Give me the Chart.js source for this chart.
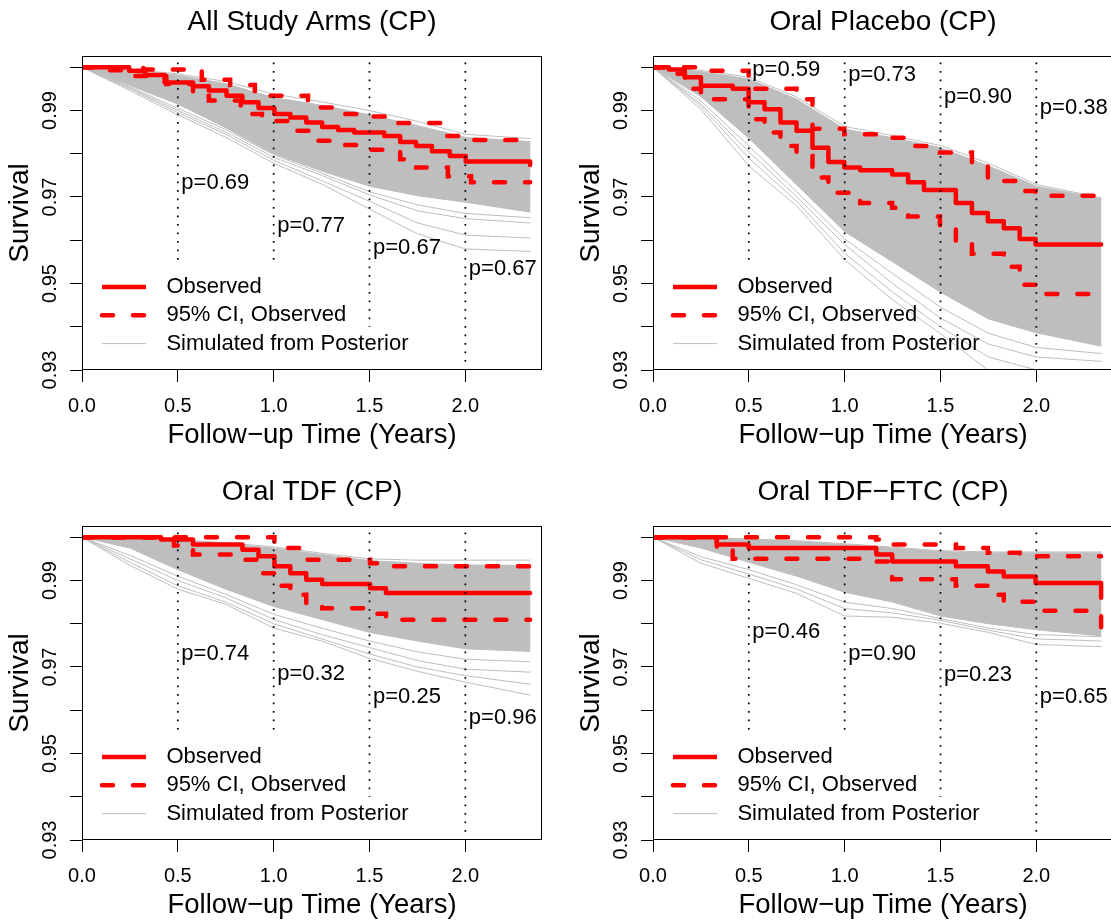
<!DOCTYPE html>
<html>
<head>
<meta charset="utf-8">
<script src="https://cdn.jsdelivr.net/npm/chart.js@4.4.1/dist/chart.umd.min.js"></script>
<style>
  html, body { margin: 0; padding: 0; background: #fff; overflow: hidden; width: 1111px; height: 922px; position: relative; }
  canvas { position: absolute; }
</style>
</head>
<body>
<canvas id="pAll" width="556" height="461" style="left:0px;top:0px"></canvas>
<canvas id="pPla" width="556" height="461" style="left:571px;top:0px"></canvas>
<canvas id="pTdf" width="556" height="461" style="left:0px;top:470px"></canvas>
<canvas id="pFtc" width="556" height="461" style="left:571px;top:470px"></canvas>
<script>
// axes
const xTickVals = [0, 0.5, 1.0, 1.5, 2.0]
const yTickVals = [0.93, 0.94, 0.95, 0.96, 0.97, 0.98, 0.99, 1.00]
const yLabelVals = [0.93, 0.95, 0.97, 0.99]

// dotted reference lines + p-values (same times in every panel)
const refTimes = [0.5, 1.0, 1.5, 2.0]
const refTop = 1.0011
const refBottoms = [0.955, 0.955, 0.940, 0.9315]

// time grid of the posterior simulations
const simTimes = [0, 0.25, 0.5, 0.75, 1.0, 1.25, 1.5, 1.75, 2.0, 2.34]

// --- All Study Arms ---
const allObsT = [0, 0.246, 0.329, 0.431, 0.579, 0.662, 0.754, 0.837, 0.921, 1.004, 1.087, 1.170, 1.253, 1.336, 1.420, 1.577, 1.660, 1.743, 1.826, 1.919, 2.002, 2.338]
const allObsV = [1.0, 0.9992, 0.9982, 0.9965, 0.9956, 0.9946, 0.9934, 0.9919, 0.9906, 0.9892, 0.9884, 0.9872, 0.9862, 0.9855, 0.9849, 0.9841, 0.9827, 0.9818, 0.9806, 0.9795, 0.9782, 0.9774]
const allUpT = [0, 0.32, 0.625, 0.773, 0.902, 1.179, 1.327, 1.494, 1.623, 1.90, 2.01, 2.338]
const allUpV = [1.0, 0.9995, 0.9971, 0.9959, 0.9934, 0.9907, 0.9892, 0.9886, 0.9871, 0.9841, 0.9832, 0.9832]
const allLoT = [0, 0.12, 0.25, 0.44, 0.579, 0.662, 0.828, 0.939, 1.078, 1.198, 1.336, 1.503, 1.660, 1.743, 1.909, 2.03, 2.338]
const allLoV = [1.0, 0.9993, 0.9980, 0.9961, 0.9934, 0.9923, 0.9892, 0.9876, 0.9853, 0.9830, 0.9820, 0.9809, 0.9787, 0.9768, 0.9748, 0.9734, 0.9734]
const allBandHi = [1.0, 0.9993, 0.9982, 0.9962, 0.9930, 0.9912, 0.9890, 0.9865, 0.9838, 0.9828]
const allBandLo = [1.0, 0.9958, 0.9915, 0.9860, 0.9800, 0.9760, 0.9725, 0.9703, 0.9688, 0.9665]
const allSimLines = [
  [1.0, 0.9946, 0.9890, 0.9838, 0.9778, 0.9730, 0.9672, 0.9615, 0.9580, 0.9574],
  [1.0, 0.9950, 0.9895, 0.9845, 0.9785, 0.9738, 0.9690, 0.9640, 0.9612, 0.9605],
  [1.0, 0.9952, 0.9900, 0.9850, 0.9792, 0.9750, 0.9705, 0.9668, 0.9650, 0.9640],
  [1.0, 0.9955, 0.9905, 0.9856, 0.9798, 0.9755, 0.9712, 0.9682, 0.9662, 0.9652],
  [1.0, 0.9995, 0.9985, 0.9967, 0.9938, 0.9920, 0.9900, 0.9875, 0.9845, 0.9835]
]
const allPLabels = ['p=0.69', 'p=0.77', 'p=0.67', 'p=0.67']
const allPY = [0.9732, 0.9633, 0.9582, 0.9533]

// --- Oral Placebo ---
const plaObsT = [0, 0.083, 0.166, 0.250, 0.416, 0.499, 0.582, 0.665, 0.749, 0.832, 0.915, 0.998, 1.081, 1.248, 1.331, 1.414, 1.580, 1.664, 1.747, 1.830, 1.913, 1.996, 2.338]
const plaObsV = [1.0, 0.9995, 0.9977, 0.9957, 0.9950, 0.9919, 0.9903, 0.9872, 0.9853, 0.9814, 0.9781, 0.9768, 0.9762, 0.9752, 0.9734, 0.9716, 0.9686, 0.9663, 0.9644, 0.9628, 0.9603, 0.9590, 0.9590]
const plaUpT = [0, 0.250, 0.499, 0.749, 0.832, 0.998, 1.165, 1.331, 1.497, 1.664, 1.747, 1.913, 1.996, 2.338]
const plaUpV = [1.0, 0.9992, 0.9950, 0.9926, 0.9858, 0.9845, 0.9837, 0.9818, 0.9803, 0.9779, 0.9737, 0.9714, 0.9703, 0.9703]
const plaLoT = [0, 0.083, 0.166, 0.250, 0.499, 0.582, 0.665, 0.749, 0.832, 0.915, 1.081, 1.248, 1.331, 1.497, 1.580, 1.664, 1.830, 1.913, 1.996, 2.338]
const plaLoV = [1.0, 0.9985, 0.9950, 0.9926, 0.9880, 0.9849, 0.9818, 0.9795, 0.9745, 0.9710, 0.9686, 0.9675, 0.9655, 0.9631, 0.9597, 0.9569, 0.9539, 0.9497, 0.9476, 0.9476]
const plaBandHi = [1.0, 0.9990, 0.9973, 0.9926, 0.9857, 0.9837, 0.9814, 0.9772, 0.9725, 0.9696]
const plaBandLo = [1.0, 0.9932, 0.9836, 0.9728, 0.9620, 0.9550, 0.9480, 0.9418, 0.9386, 0.9355]
const plaSimLines = [
  [1.0, 0.9903, 0.9772, 0.9679, 0.9555, 0.9462, 0.9384, 0.9299, 0.9260, 0.9240],
  [1.0, 0.9910, 0.9790, 0.9690, 0.9570, 0.9480, 0.9400, 0.9330, 0.9300, 0.9290],
  [1.0, 0.9915, 0.9805, 0.9700, 0.9590, 0.9500, 0.9420, 0.9360, 0.9330, 0.9320],
  [1.0, 0.9922, 0.9818, 0.9712, 0.9603, 0.9523, 0.9445, 0.9385, 0.9352, 0.9338],
  [1.0, 0.9993, 0.9977, 0.9931, 0.9863, 0.9842, 0.9819, 0.9778, 0.9729, 0.9698]
]
const plaPLabels = ['p=0.59', 'p=0.73', 'p=0.90', 'p=0.38']
const plaPY = [0.9994, 0.9982, 0.9931, 0.9905]

// --- Oral TDF ---
const tdfObsT = [0, 0.412, 0.579, 0.837, 0.921, 1.004, 1.087, 1.170, 1.253, 1.503, 1.586, 2.338]
const tdfObsV = [1.0, 0.9995, 0.9983, 0.9971, 0.9956, 0.9933, 0.9917, 0.9902, 0.9892, 0.9882, 0.9871, 0.9871]
const tdfUpT = [0, 1.004, 1.150, 1.503, 1.586, 2.338]
const tdfUpV = [1.0, 0.9975, 0.9948, 0.9940, 0.9933, 0.9933]
const tdfLoT = [0, 0.48, 0.579, 0.837, 0.921, 1.004, 1.087, 1.170, 1.253, 1.503, 1.586, 2.338]
const tdfLoV = [1.0, 0.9981, 0.9960, 0.9948, 0.9917, 0.9888, 0.9867, 0.9847, 0.9836, 0.9823, 0.9809, 0.9809]
const tdfBandHi = [1.0, 0.9996, 0.9993, 0.9985, 0.9975, 0.9960, 0.9946, 0.9940, 0.9936, 0.9935]
const tdfBandLo = [1.0, 0.9975, 0.9925, 0.9880, 0.9840, 0.9810, 0.9780, 0.9760, 0.9742, 0.9736]
const tdfSimLines = [
  [1.0, 0.9935, 0.9880, 0.9845, 0.9790, 0.9760, 0.9720, 0.9690, 0.9665, 0.9635],
  [1.0, 0.9942, 0.9888, 0.9850, 0.9800, 0.9765, 0.9730, 0.9700, 0.9680, 0.9660],
  [1.0, 0.9950, 0.9900, 0.9860, 0.9810, 0.9775, 0.9745, 0.9715, 0.9695, 0.9688],
  [1.0, 0.9958, 0.9910, 0.9868, 0.9822, 0.9790, 0.9760, 0.9735, 0.9718, 0.9712],
  [1.0, 0.9997, 0.9995, 0.9987, 0.9978, 0.9963, 0.9950, 0.9947, 0.9947, 0.9947]
]
const tdfPLabels = ['p=0.74', 'p=0.32', 'p=0.25', 'p=0.96']
const tdfPY = [0.9731, 0.9684, 0.9631, 0.9583]

// --- Oral TDF-FTC ---
const ftcObsT = [0, 0.333, 0.499, 1.165, 1.248, 1.580, 1.747, 1.830, 1.996, 2.338]
const ftcObsV = [1.0, 0.9983, 0.9975, 0.9960, 0.9944, 0.9933, 0.9921, 0.9909, 0.9894, 0.9860]
const ftcUpT = [0, 1.165, 1.248, 1.580, 1.747, 1.913, 2.338]
const ftcUpV = [1.0, 0.9995, 0.9983, 0.9975, 0.9964, 0.9956, 0.9956]
const ftcLoT = [0, 0.333, 0.416, 1.165, 1.248, 1.580, 1.747, 1.830, 1.996, 2.338]
const ftcLoV = [1.0, 0.9970, 0.9950, 0.9944, 0.9903, 0.9888, 0.9867, 0.9851, 0.9830, 0.9765]
const ftcBandHi = [1.0, 0.9998, 0.9995, 0.9990, 0.9983, 0.9975, 0.9967, 0.9964, 0.9964, 0.9964]
const ftcBandLo = [1.0, 0.9975, 0.9942, 0.9910, 0.9873, 0.9850, 0.9818, 0.9800, 0.9786, 0.9772]
const ftcSimLines = [
  [1.0, 0.9940, 0.9905, 0.9870, 0.9818, 0.9815, 0.9801, 0.9780, 0.9752, 0.9747],
  [1.0, 0.9948, 0.9915, 0.9880, 0.9835, 0.9825, 0.9808, 0.9785, 0.9765, 0.9760],
  [1.0, 0.9955, 0.9925, 0.9890, 0.9850, 0.9835, 0.9812, 0.9790, 0.9775, 0.9770],
  [1.0, 0.9999, 0.9996, 0.9992, 0.9985, 0.9977, 0.9969, 0.9966, 0.9966, 0.9966]
]
const ftcPLabels = ['p=0.46', 'p=0.90', 'p=0.23', 'p=0.65']
const ftcPY = [0.9782, 0.9731, 0.9682, 0.9631]

const FONT = "'Liberation Sans', Arial, Helvetica, sans-serif"
const RED = '#ff0000'
const GREY = '#bebebe'
const RED_W = 4.5
const RED_DASH = [11, 20]

const toPts = (ts, vs) => ts.map((t, i) => ({ x: t, y: vs[i] }))
const simPts = (vs) => simTimes.map((t, i) => ({ x: t, y: vs[i] }))

// titles, axis labels, box, legend and p-values, R style
function rDecor(p) {
  return {
    id: 'rDecor',
    afterDatasetsDraw(chart) {
      const { ctx, chartArea: a } = chart
      ctx.save()
      ctx.strokeStyle = '#000'
      ctx.lineWidth = 1
      ctx.setLineDash([])
      ctx.strokeRect(Math.round(a.left) + 0.5, Math.round(a.top) + 0.5,
        Math.round(a.right - a.left) - 1, Math.round(a.bottom - a.top) - 1)
      ctx.restore()
    },
    afterDraw(chart) {
      const { ctx, chartArea: a } = chart
      const x = chart.scales.x
      const y = chart.scales.y
      const cx = (a.left + a.right) / 2
      ctx.save()
      ctx.fillStyle = '#000'
      ctx.textAlign = 'center'
      ctx.textBaseline = 'alphabetic'

      ctx.font = `28px ${FONT}`
      ctx.fillText(p.title, cx, 30)

      ctx.font = `27.5px ${FONT}`
      ctx.fillText('Follow\u2212up Time (Years)', cx, 443)

      ctx.save()
      ctx.translate(28, (a.top + a.bottom) / 2)
      ctx.rotate(-Math.PI / 2)
      ctx.font = `28px ${FONT}`
      ctx.fillText('Survival', 0, 0)
      ctx.restore()

      ctx.font = `20px ${FONT}`
      xTickVals.forEach(v => ctx.fillText(v.toFixed(1), x.getPixelForValue(v), 411.5))
      yLabelVals.forEach(v => {
        ctx.save()
        ctx.translate(56, y.getPixelForValue(v))
        ctx.rotate(-Math.PI / 2)
        ctx.fillText(v.toFixed(2), 0, 0)
        ctx.restore()
      })

      // p-values next to the dotted lines
      ctx.font = `22px ${FONT}`
      ctx.textAlign = 'left'
      ctx.textBaseline = 'middle'
      refTimes.forEach((t, i) => {
        ctx.fillText(p.pLabels[i], x.getPixelForValue(t) + 3.5, y.getPixelForValue(p.pY[i]))
      })

      // legend
      const rows = [
        { label: 'Observed', color: RED, width: RED_W, dash: [] },
        { label: '95% CI, Observed', color: RED, width: RED_W, dash: RED_DASH },
        { label: 'Simulated from Posterior', color: GREY, width: 1, dash: [] }
      ]
      const rowY = [231, 259.3, 287.6]
      ctx.font = `22px ${FONT}`
      rows.forEach((r, i) => {
        const ly = a.top + rowY[i]
        ctx.beginPath()
        ctx.strokeStyle = r.color
        ctx.lineWidth = r.width
        ctx.lineCap = r.dash.length ? 'round' : 'butt'
        ctx.setLineDash(r.dash)
        ctx.moveTo(a.left + 20, ly)
        ctx.lineTo(a.left + 64, ly)
        ctx.stroke()
        ctx.setLineDash([])
        ctx.fillStyle = '#000'
        ctx.fillText(r.label, a.left + 84.4, ly)
      })
      ctx.restore()
    }
  }
}

function makePanel(id, p) {
  const datasets = []

  // dotted vertical reference lines (on top)
  refTimes.forEach((t, i) => {
    datasets.push({
      data: [{ x: t, y: refTop }, { x: t, y: refBottoms[i] }],
      borderColor: '#000', borderWidth: 1.7, borderDash: [1.7, 6.8],
      pointRadius: 0, order: 0
    })
  })

  // observed KM and its CI
  datasets.push({
    data: toPts(p.obsT, p.obsV), stepped: 'before',
    borderColor: RED, borderWidth: RED_W, borderCapStyle: 'round', borderJoinStyle: 'round',
    pointRadius: 0, order: 1
  })
  datasets.push({
    data: toPts(p.upT, p.upV), stepped: 'before',
    borderColor: RED, borderWidth: RED_W, borderDash: RED_DASH, borderCapStyle: 'round',
    pointRadius: 0, order: 1
  })
  datasets.push({
    data: toPts(p.loT, p.loV), stepped: 'before',
    borderColor: RED, borderWidth: RED_W, borderDash: RED_DASH, borderCapStyle: 'round',
    pointRadius: 0, order: 1
  })

  // posterior simulations
  p.simLines.forEach(vs => {
    datasets.push({
      data: simPts(vs), borderColor: GREY, borderWidth: 1, pointRadius: 0, order: 2
    })
  })
  datasets.push({
    data: simPts(p.bandHi), borderColor: GREY, borderWidth: 1, pointRadius: 0,
    fill: '+1', backgroundColor: GREY, order: 3
  })
  datasets.push({
    data: simPts(p.bandLo), borderColor: GREY, borderWidth: 1, pointRadius: 0, order: 3
  })

  new Chart(document.getElementById(id), {
    type: 'line',
    data: { datasets },
    options: {
      responsive: false,
      animation: false,
      events: [],
      layout: { padding: { left: 0, top: 56, right: 14, bottom: 0 } },
      elements: { line: { tension: 0 } },
      plugins: { legend: { display: false }, tooltip: { enabled: false }, title: { display: false } },
      scales: {
        x: {
          type: 'linear', min: 0, max: 2.4,
          afterBuildTicks: s => { s.ticks = xTickVals.map(v => ({ value: v })) },
          afterFit: s => { s.height = 91 },
          ticks: { display: false },
          grid: { drawOnChartArea: false, drawTicks: true, tickLength: 12, color: '#000', lineWidth: 1 },
          border: { display: false }
        },
        y: {
          type: 'linear', min: 0.93, max: 1.0026,
          afterBuildTicks: s => { s.ticks = yTickVals.map(v => ({ value: v })) },
          afterFit: s => { s.width = 82 },
          ticks: { display: false },
          grid: { drawOnChartArea: false, drawTicks: true, tickLength: 12, color: '#000', lineWidth: 1 },
          border: { display: false }
        }
      }
    },
    plugins: [rDecor(p)]
  })
}

makePanel('pAll', {
  title: 'All Study Arms (CP)',
  obsT: allObsT, obsV: allObsV, upT: allUpT, upV: allUpV, loT: allLoT, loV: allLoV,
  bandHi: allBandHi, bandLo: allBandLo, simLines: allSimLines,
  pLabels: allPLabels, pY: allPY
})
makePanel('pPla', {
  title: 'Oral Placebo (CP)',
  obsT: plaObsT, obsV: plaObsV, upT: plaUpT, upV: plaUpV, loT: plaLoT, loV: plaLoV,
  bandHi: plaBandHi, bandLo: plaBandLo, simLines: plaSimLines,
  pLabels: plaPLabels, pY: plaPY
})
makePanel('pTdf', {
  title: 'Oral TDF (CP)',
  obsT: tdfObsT, obsV: tdfObsV, upT: tdfUpT, upV: tdfUpV, loT: tdfLoT, loV: tdfLoV,
  bandHi: tdfBandHi, bandLo: tdfBandLo, simLines: tdfSimLines,
  pLabels: tdfPLabels, pY: tdfPY
})
makePanel('pFtc', {
  title: 'Oral TDF\u2212FTC (CP)',
  obsT: ftcObsT, obsV: ftcObsV, upT: ftcUpT, upV: ftcUpV, loT: ftcLoT, loV: ftcLoV,
  bandHi: ftcBandHi, bandLo: ftcBandLo, simLines: ftcSimLines,
  pLabels: ftcPLabels, pY: ftcPY
})
</script>
</body>
</html>
